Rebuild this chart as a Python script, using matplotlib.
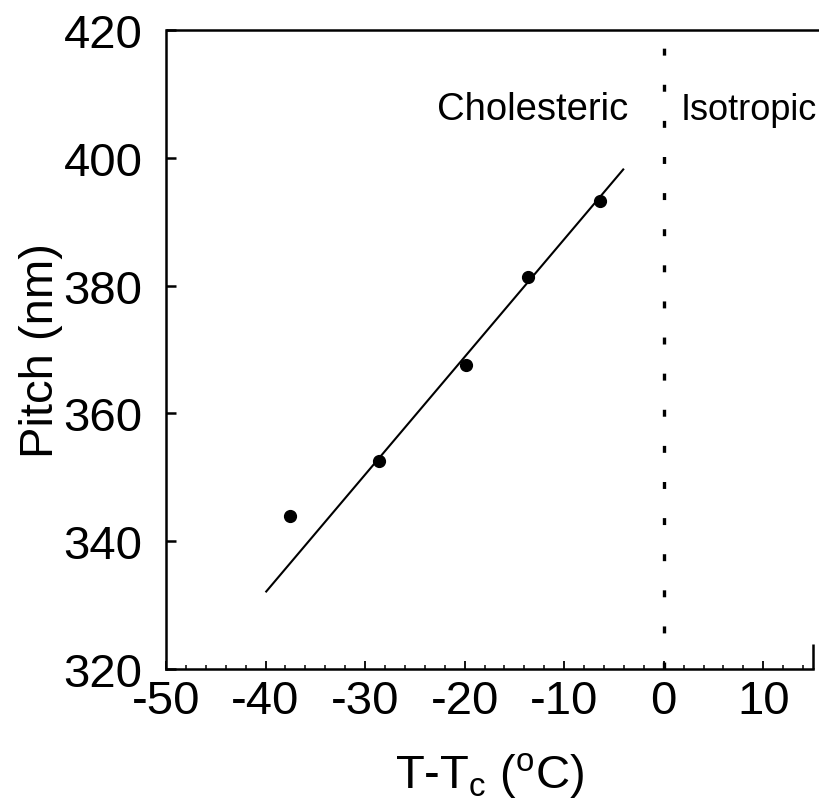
import numpy as np
import matplotlib
matplotlib.use("Agg")
import matplotlib.pyplot as plt

plt.rcParams["font.family"] = ["Liberation Sans", "DejaVu Sans"]
plt.rcParams["mathtext.default"] = "regular"
plt.rcParams["lines.scale_dashes"] = False
plt.rcParams["axes.unicode_minus"] = False

# measured pitch vs reduced temperature
temp = [-37.5, -28.6, -19.9, -13.6, -6.4]
pitch = [344.0, 352.6, 367.6, 381.4, 393.2]

# straight line drawn through the data (end points)
fit_x = [-40.0, -4.0]
fit_y = [332.0, 398.3]

x_ticks = [-50, -40, -30, -20, -10, 0, 10]
y_ticks = [320, 340, 360, 380, 400, 420]
t_c = 0.0

fig = plt.figure(figsize=(8.19, 8.12), dpi=100)
ax = fig.add_axes([0.2027, 0.1749, 0.7900, 0.7869])
ax.set_xlim(-50, 15)
ax.set_ylim(320, 420)

ax.plot(fit_x, fit_y, color="black", lw=1.5, solid_capstyle="butt")
ax.plot(temp, pitch, "o", color="black", ms=8.5)

# phase boundary
ax.plot([t_c, t_c], [320, 417.8], color="black", lw=2.4, dashes=(5, 21))
ax.text(-3.6, 406, "Cholesteric", fontsize=27.5, ha="right", va="baseline")
ax.text(1.7, 406, "Isotropic", fontsize=26, ha="left", va="baseline")

# frame: full left/bottom, long top rule, stub on the right
for side in ["top", "right"]:
    ax.spines[side].set_visible(False)
for side in ["left", "bottom"]:
    ax.spines[side].set_linewidth(1.8)
ax.plot([-50, 15.7], [420, 420], color="black", lw=1.8, clip_on=False,
        solid_capstyle="butt")
ax.plot([15, 15], [320, 323.9], color="black", lw=1.8, clip_on=False,
        solid_capstyle="butt")

ax.set_xticks(x_ticks)
ax.set_xticks(np.arange(-50, 16, 2), minor=True)
ax.set_yticks(y_ticks)
ax.tick_params(axis="x", which="major", direction="in", length=6, width=1.3,
               labelsize=34, pad=7)
ax.tick_params(axis="x", which="minor", direction="in", length=3, width=1.1)
ax.tick_params(axis="y", which="major", direction="in", length=7, width=1.8,
               labelsize=34, pad=17)

ax.set_ylabel("Pitch (nm)", fontsize=34, labelpad=0)
ax.set_xlabel(r"T-T$_c$ ($^o$C)", fontsize=34, labelpad=20)

fig.savefig("out.png", dpi=100)
